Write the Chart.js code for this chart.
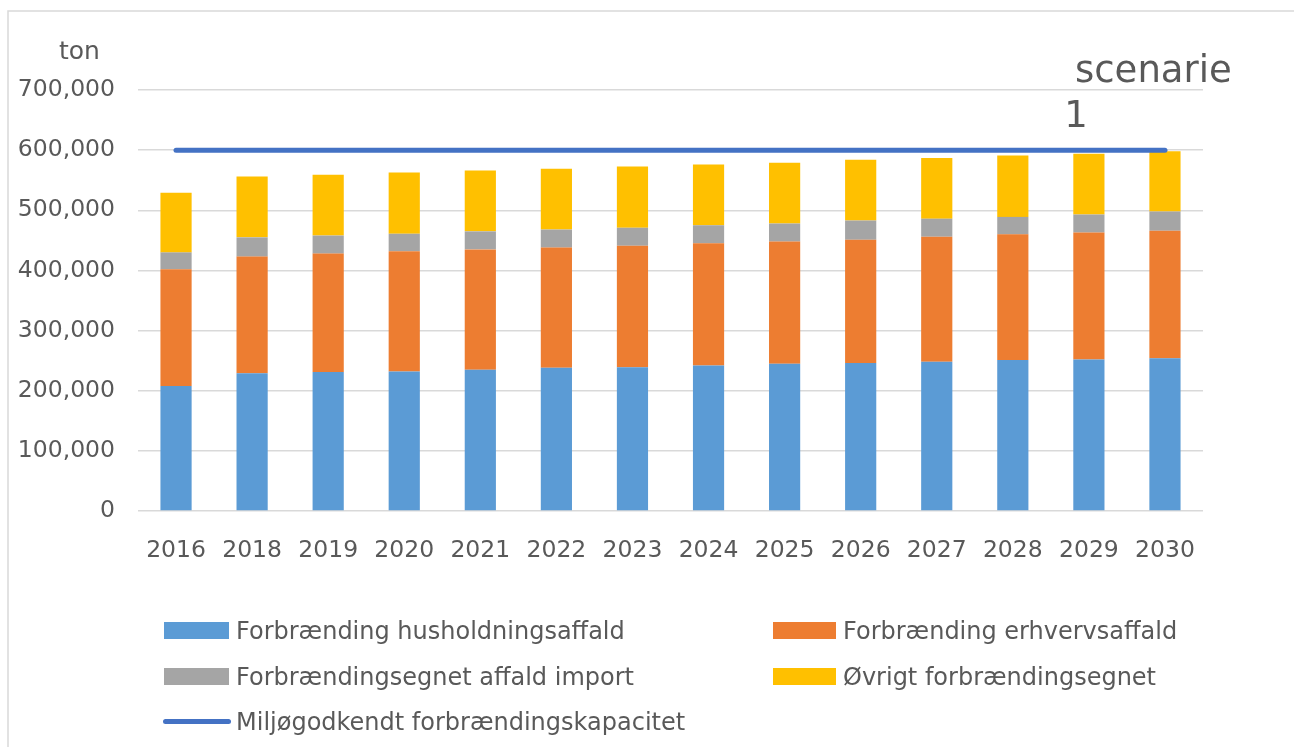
<!DOCTYPE html>
<html>
<head>
<meta charset="utf-8">
<script src="https://cdn.jsdelivr.net/npm/chart.js@4/dist/chart.umd.min.js"></script>
<style>
  html, body { margin: 0; padding: 0; background: #fff; overflow: hidden; }
  #wrap { position: relative; width: 1294px; height: 747px; overflow: hidden; }
  #chart { display: block; }
  .lg { position: absolute; font: 24px "DejaVu Sans", sans-serif; color: #595959; line-height: 30px; white-space: nowrap; }
  .sw { position: absolute; }
</style>
</head>
<body>
<div id="wrap">
  <canvas id="chart"></canvas>

  <div class="sw" style="left:164px;top:622px;width:65px;height:17px;background:#5B9BD5"></div>
  <div class="lg" style="left:236px;top:616px">Forbrænding husholdningsaffald</div>
  <div class="sw" style="left:773px;top:622px;width:63px;height:17px;background:#ED7D31"></div>
  <div class="lg" style="left:843px;top:616px">Forbrænding erhvervsaffald</div>

  <div class="sw" style="left:164px;top:668px;width:65px;height:17px;background:#A5A5A5"></div>
  <div class="lg" style="left:236px;top:662px">Forbrændingsegnet affald import</div>
  <div class="sw" style="left:773px;top:668px;width:63px;height:17px;background:#FFC000"></div>
  <div class="lg" style="left:843px;top:662px">Øvrigt forbrændingsegnet</div>

  <div class="sw" style="left:163px;top:719px;width:68px;height:5px;border-radius:3px;background:#4472C4"></div>
  <div class="lg" style="left:236px;top:707px">Miljøgodkendt forbrændingskapacitet</div>
</div>

<script>
// ======================
// DATA
// ======================
const years = ['2016', '2018', '2019', '2020', '2021', '2022', '2023', '2024', '2025', '2026', '2027', '2028', '2029', '2030'];

const husholdning = [208000, 229000, 231000, 232000, 235000, 238000, 239000, 242000, 245000, 246000, 248000, 251000, 252000, 254000];
const erhverv     = [194000, 194000, 197000, 200000, 200000, 200000, 202000, 203000, 203000, 205000, 208000, 209000, 211000, 212000];
const importAff   = [ 28000,  32000,  30000,  29000,  30000,  30000,  30000,  30000,  30000,  32000,  30000,  29000,  30000,  32000];
const oevrigt     = [ 99000, 101000, 101000, 102000, 101000, 101000, 102000, 101000, 101000, 101000, 101000, 102000, 101000, 100000];
const kapacitet   = [600000, 600000, 600000, 600000, 600000, 600000, 600000, 600000, 600000, 600000, 600000, 600000, 600000, 600000];

const yMax = 700000;
const yStep = 100000;

// ======================
// EKSTRA TEGNING (ramme + tekster)
// ======================
const extras = {
  id: 'extras',
  beforeDraw(chart) {
    const ctx = chart.ctx;
    ctx.save();
    ctx.strokeStyle = '#d9d9d9';
    ctx.lineWidth = 1.5;
    ctx.beginPath();
    ctx.moveTo(8, 747);
    ctx.lineTo(8, 11);
    ctx.lineTo(1294, 11);
    ctx.stroke();
    ctx.restore();
  },
  afterDraw(chart) {
    const ctx = chart.ctx;
    ctx.save();
    ctx.fillStyle = '#595959';
    ctx.textBaseline = 'alphabetic';
    ctx.font = '25px "DejaVu Sans"';
    ctx.textAlign = 'left';
    ctx.fillText('ton', 59, 59);
    ctx.font = '37px "DejaVu Sans"';
    ctx.fillText('scenarie', 1075, 82);
    ctx.textAlign = 'center';
    ctx.fillText('1', 1076, 127);
    ctx.restore();
  }
};

Chart.defaults.font.family = '"DejaVu Sans", sans-serif';
Chart.defaults.color = '#595959';

new Chart(document.getElementById('chart').getContext('2d'), {
  type: 'bar',
  data: {
    labels: years,
    datasets: [
      { label: 'Forbrænding husholdningsaffald', data: husholdning, backgroundColor: '#5B9BD5', stack: 'affald', order: 1 },
      { label: 'Forbrænding erhvervsaffald', data: erhverv, backgroundColor: '#ED7D31', stack: 'affald', order: 1 },
      { label: 'Forbrændingsegnet affald import', data: importAff, backgroundColor: '#A5A5A5', stack: 'affald', order: 1 },
      { label: 'Øvrigt forbrændingsegnet', data: oevrigt, backgroundColor: '#FFC000', stack: 'affald', order: 1 },
      {
        type: 'line', label: 'Miljøgodkendt forbrændingskapacitet', data: kapacitet, stack: 'kap', order: 0,
        borderColor: '#4472C4', borderWidth: 5, borderCapStyle: 'round', pointRadius: 0, fill: false
      }
    ]
  },
  options: {
    responsive: true,
    maintainAspectRatio: false,
    animation: false,
    layout: { padding: { left: 0, right: 91, top: 90, bottom: 0 } },
    datasets: { bar: { categoryPercentage: 1, barPercentage: 0.41 } },
    plugins: {
      legend: { display: false },
      tooltip: { enabled: false }
    },
    scales: {
      x: {
        stacked: true,
        grid: { display: false, drawTicks: false },
        border: { display: false },
        ticks: { font: { size: 23.5 }, padding: 26, maxRotation: 0 },
        afterFit(scale) { scale.height = 236; }
      },
      y: {
        stacked: true,
        min: 0,
        max: yMax,
        grid: { color: '#d9d9d9', lineWidth: 1.5, drawTicks: false },
        border: { display: false },
        ticks: {
          stepSize: yStep,
          font: { size: 23.5 },
          padding: 23,
          callback: v => v.toLocaleString('en-US')
        },
        afterFit(scale) { scale.width = 138; }
      }
    }
  },
  plugins: [extras]
});
</script>
</body>
</html>
